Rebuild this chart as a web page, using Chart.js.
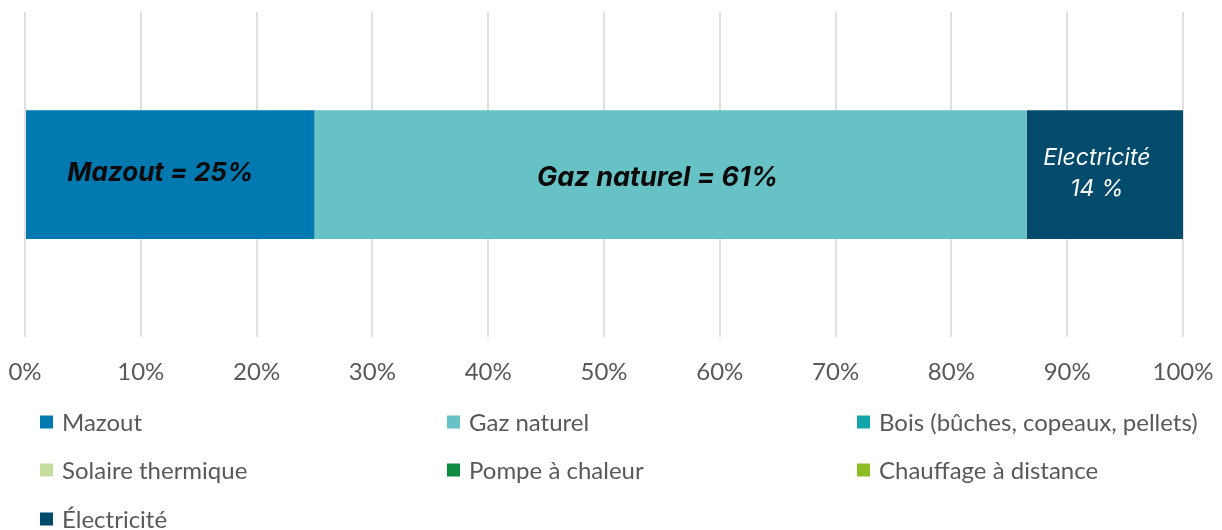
<!DOCTYPE html>
<html>
<head>
<meta charset="utf-8">
<script src="https://cdn.jsdelivr.net/npm/chart.js@4/dist/chart.umd.min.js"></script>
<style>
  html, body { margin: 0; padding: 0; background: #ffffff; }
  #wrap { width: 1222px; height: 530px; position: relative; }
</style>
</head>
<body>
<div id="wrap"><canvas id="c" width="1222" height="530"></canvas></div>
<script>
// ---- Data ----
const categories = [''];
const seriesNames = ['Mazout', 'Gaz naturel', 'Bois (bûches, copeaux, pellets)', 'Solaire thermique', 'Pompe à chaleur', 'Chauffage à distance', 'Électricité'];
const seriesValues = [25, 61.5, 0, 0, 0, 0, 13.5];
const seriesColors = ['#0078B0', '#66C2C5', '#13A5A9', '#C5DE9E', '#0C8C40', '#8EBC23', '#034B6C'];
const barLabels = [['Mazout = 25%'], ['Gaz naturel = 61%'], [], [], [], [], ['Electricité', '14 %']];
const tickValues = [0, 10, 20, 30, 40, 50, 60, 70, 80, 90, 100];

const labelStyles = [
  { font: 'italic bold 26px Inter', color: '#0a0a0a', dx: -10, dy: -1, lh: 30 },
  { font: 'italic bold 27px Inter', color: '#0a0a0a', dx: -13, dy: 3, lh: 30 },
  null, null, null, null,
  { font: 'italic 23px Inter', color: '#ffffff', dx: -8, dy: -1, lh: 31 }
];

const barLabelPlugin = {
  id: 'barLabels',
  afterDatasetsDraw(chart) {
    const ctx = chart.ctx;
    chart.data.datasets.forEach((ds, i) => {
      const lines = barLabels[i];
      const st = labelStyles[i];
      if (!lines || !lines.length || !st) return;
      const meta = chart.getDatasetMeta(i);
      const el = meta.data[0];
      const cx = (el.x + el.base) / 2 + st.dx;
      const cy = el.y + st.dy;
      ctx.save();
      ctx.font = st.font;
      ctx.fillStyle = st.color;
      ctx.textAlign = 'center';
      ctx.textBaseline = 'middle';
      const n = lines.length;
      lines.forEach((t, k) => {
        ctx.fillText(t, cx, cy + (k - (n - 1) / 2) * st.lh);
      });
      ctx.restore();
    });
  }
};

const legendPlugin = {
  id: 'gridLegend',
  afterDraw(chart) {
    const ctx = chart.ctx;
    const colX = [40, 447, 857];
    const rowY = [422, 470, 519];
    const box = 13;
    ctx.save();
    ctx.font = '24px Lato';
    ctx.textBaseline = 'middle';
    ctx.textAlign = 'left';
    chart.data.datasets.forEach((ds, i) => {
      const x = colX[i % 3];
      const y = rowY[Math.floor(i / 3)];
      ctx.fillStyle = ds.backgroundColor;
      ctx.fillRect(x, y - box / 2, box, box);
      ctx.fillStyle = '#595959';
      ctx.fillText(ds.label, x + 22, y + 1);
    });
    ctx.restore();
  }
};

const datasets = seriesNames.map((name, i) => ({
  label: name,
  data: [seriesValues[i]],
  backgroundColor: seriesColors[i],
  borderWidth: 0,
  barPercentage: 0.396,
  categoryPercentage: 1.0
}));

new Chart(document.getElementById('c'), {
  type: 'bar',
  data: { labels: categories, datasets },
  options: {
    indexAxis: 'y',
    responsive: false,
    animation: false,
    layout: { padding: { left: 25, right: 39, top: 12, bottom: 122 } },
    plugins: {
      legend: { display: false },
      tooltip: { enabled: false }
    },
    scales: {
      x: {
        stacked: true,
        min: 0,
        max: 100,
        afterBuildTicks(scale) { scale.ticks = tickValues.map(v => ({ value: v })); },
        afterFit(scale) { scale.paddingLeft = 0; scale.paddingRight = 0; },
        grid: { color: '#e2dee1', lineWidth: 2, drawTicks: false },
        border: { display: false },
        ticks: {
          padding: 21,
          color: '#595959',
          font: { family: 'Lato', size: 24 },
          maxRotation: 0,
          callback: v => v + '%'
        }
      },
      y: {
        stacked: true,
        display: false
      }
    }
  },
  plugins: [barLabelPlugin, legendPlugin]
});
</script>
</body>
</html>
